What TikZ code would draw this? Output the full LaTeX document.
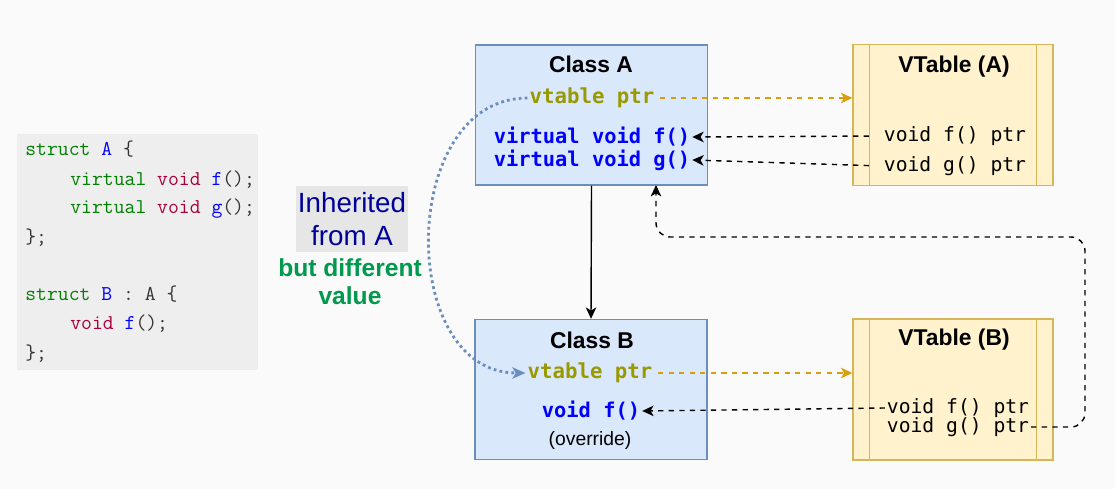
\documentclass[tikz,border=0pt]{standalone}
\usepackage{fontspec}
\setmainfont{Liberation Sans}
\newfontfamily\monofont{DejaVu Sans Mono}
\usepackage{tikz}
\usetikzlibrary{arrows.meta}

\definecolor{bgc}{HTML}{FAFAFA}
\definecolor{codebg}{HTML}{EEEEEE}
\definecolor{kwgreen}{HTML}{008000}
\definecolor{fnblue}{HTML}{0000FF}
\definecolor{typered}{HTML}{A8003C}
\definecolor{punct}{HTML}{333333}
\definecolor{clsfill}{HTML}{DAE8FC}
\definecolor{clsline}{HTML}{6C8EBF}
\definecolor{vtfill}{HTML}{FFF2CC}
\definecolor{vtline}{HTML}{D6B656}
\definecolor{ptrolive}{HTML}{999900}
\definecolor{ptrorange}{HTML}{D99E0B}
\definecolor{inhblue}{HTML}{000099}
\definecolor{inhgray}{HTML}{E6E6E6}
\definecolor{diffgreen}{HTML}{00994D}

\begin{document}
\begin{tikzpicture}[x=0.02cm,y=-0.02cm,>={Stealth[length=6.5pt,width=6pt,inset=1.8pt]},
	codeline/.style={anchor=base west,inner sep=0pt,font=\ttfamily\fontsize{12}{14}\selectfont},
	clsbox/.style={draw=clsline,fill=clsfill,line width=0.8pt,minimum width=4.64cm,minimum height=2.8cm},
	vtbox/.style={draw=vtline,fill=vtfill,line width=0.8pt,minimum width=4cm,minimum height=2.82cm},
	title/.style={font=\bfseries\fontsize{13}{15}\selectfont},
	member/.style={text=fnblue,inner sep=1pt,font=\monofont\bfseries\fontsize{11.6}{14}\selectfont},
	vptr/.style={text=ptrolive,inner sep=1pt,font=\monofont\bfseries\fontsize{11.8}{14}\selectfont},
	slot/.style={inner sep=1pt,font=\monofont\fontsize{11.2}{13}\selectfont}]
		% background and code listing
		\fill[bgc] (0,0) rectangle (1115,489);
		\fill[codebg] (17,134) rectangle (258,370);
		\node[codeline] (l1) at (25,156) {\textcolor{kwgreen}{struct} \textcolor{fnblue}{A} \textcolor{punct}{\{}};
		\node[codeline] (l2) at (70,186) {\textcolor{kwgreen}{virtual} \textcolor{typered}{void} \textcolor{fnblue}{f}\textcolor{punct}{();}};
		\node[codeline] (l3) at (70,214) {\textcolor{kwgreen}{virtual} \textcolor{typered}{void} \textcolor{fnblue}{g}\textcolor{punct}{();}};
		\node[codeline] (l4) at (25,244) {\textcolor{punct}{\};}};
		\node[codeline] (l5) at (25,301) {\textcolor{kwgreen}{struct} \textcolor{fnblue}{B} \textcolor{punct}{: A \{}};
		\node[codeline] (l6) at (70,330) {\textcolor{typered}{void} \textcolor{fnblue}{f}\textcolor{punct}{();}};
		\node[codeline] (l7) at (25,359) {\textcolor{punct}{\};}};
		
		% note
		\node[fill=inhgray,text=inhblue,align=center,inner sep=0pt,minimum width=2.24cm,minimum height=1.34cm,
			font=\fontsize{15.8}{18.8}\selectfont] (inh) at (352,219) {Inherited\\from A};
		\node[text=diffgreen,align=center,font=\bfseries\fontsize{14}{15.9}\selectfont] (diff) at (350,282) {but different\\value};
		
		% classes
		\node[clsbox] (clsA) at (591.5,115) {};
		\node[clsbox] (clsB) at (591,389.5) {};
		\node[title] (tA) at (591,64) {Class A};
		\node[vptr] (vpA) at (592,98) {vtable ptr};
		\node[member] (fA) at (592,137) {virtual void f()};
		\node[member] (gA) at (592,160) {virtual void g()};
		\node[title] (tB) at (592,340) {Class B};
		\node[vptr] (vpB) at (590,373) {vtable ptr};
		\node[member] (fB) at (591,411) {void f()};
		\node[font=\fontsize{11}{13}\selectfont] (ovr) at (590,440) {(override)};
		
		% vtables
		\node[vtbox] (vtA) at (953,115) {};
		\node[vtbox] (vtB) at (953,389.5) {};
		\foreach \vt in {vtA,vtB}
		{
			\draw[vtline,line width=0.8pt] ([xshift=0.34cm]\vt.north west) -- ([xshift=0.34cm]\vt.south west);
			\draw[vtline,line width=0.8pt] ([xshift=-0.34cm]\vt.north east) -- ([xshift=-0.34cm]\vt.south east);
		}
		\node[title] (tvA) at (954,67) {VTable (A)};
		\node[slot] (fpA) at (955,136) {void f() ptr};
		\node[slot] (gpA) at (955,166) {void g() ptr};
		\node[title] (tvB) at (954,340) {VTable (B)};
		\node[slot] (fpB) at (958,408) {void f() ptr};
		\node[slot] (gpB) at (958,427) {void g() ptr};
		
		% connectors
		\coordinate (turn) at (1085,237);
		\coordinate (gin) at (656,185);
		\draw[->,line width=0.8pt] (clsA.south) -- (clsB.north);
		\draw[->,ptrorange,dashed,line width=0.9pt,shorten <=2pt] (vpA.east) -- (vpA.east -| vtA.west);
		\draw[->,ptrorange,dashed,line width=0.9pt,shorten <=2pt] (vpB.east) -- (vpB.east -| vtB.west);
		\draw[->,dashed,line width=0.8pt,shorten <=0.26cm] (fpA.west) -- (fA.east);
		\draw[->,dashed,line width=0.8pt,shorten <=0.26cm] (gpA.west) -- (gA.east);
		\draw[->,dashed,line width=0.8pt] (fpB.west) -- (fB.east);
		\draw[->,dashed,line width=0.8pt,rounded corners=8pt] (gpB.east) -| (turn) -| (gin);
		\draw[-{Stealth[length=7.5pt,width=6.5pt,inset=2pt]},clsline,line width=1.6pt,dash pattern=on 1.6pt off 1.8pt]
			(vpA.west) to[out=180,in=180,looseness=1.2] (vpB.west);
\end{tikzpicture}
\end{document}
